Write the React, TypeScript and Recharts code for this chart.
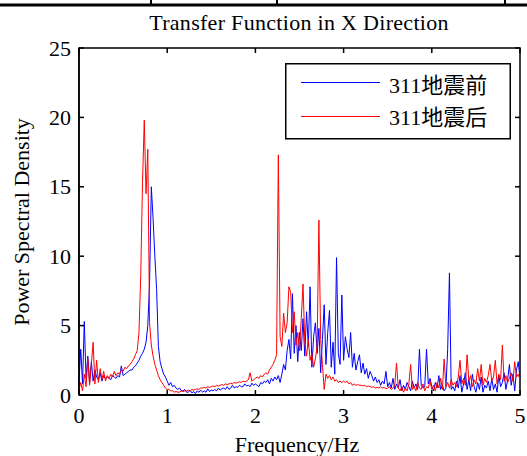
import { LineChart, Line, XAxis, YAxis, ReferenceArea } from 'recharts';

// frequency grid step (Hz) of the sampled spectra
const FREQ_STEP = 0.02;

// 311 before the earthquake (blue), one row = 0.2 Hz
const before = [
  1.0, 3.3, 0.8, 5.3, 1.2, 2.8, 0.9, 2.4, 1.0, 1.8,
  1.3, 1.1, 1.6, 1.0, 1.4, 1.2, 1.3, 1.2, 1.1, 1.4,
  1.3, 1.2, 1.4, 1.3, 2.1, 1.4, 1.5, 1.6, 1.7, 1.8,
  1.8, 2.0, 2.1, 2.3, 2.5, 2.8, 3.0, 3.3, 3.8, 5.0,
  8.0, 15.0, 12.7, 10.0, 7.6, 3.5, 2.4, 1.9, 1.5, 1.3,
  1.0, 0.7, 0.9, 0.6, 0.7, 0.5, 0.4, 0.5, 0.3, 0.3,
  0.4, 0.2, 0.2, 0.35, 0.15, 0.25, 0.1, 0.3, 0.2, 0.35,
  0.2, 0.3, 0.2, 0.45, 0.25, 0.35, 0.3, 0.4, 0.3, 0.5,
  0.35, 0.45, 0.5, 0.4, 0.6, 0.4, 0.5, 0.7, 0.5, 0.6,
  0.55, 0.7, 0.6, 0.6, 0.8, 0.65, 0.7, 0.6, 0.85, 0.7,
  0.8, 0.7, 0.6, 0.9, 0.8, 1.0, 0.9, 1.1, 0.8, 1.2,
  1.0, 1.3, 1.1, 1.4, 0.9, 1.5, 2.2, 1.8, 3.2, 4.0,
  2.6, 7.3, 3.0, 5.0, 2.4, 4.5, 3.2, 5.5, 2.8, 6.0,
  3.5, 7.8, 2.0, 4.2, 5.2, 3.0, 4.8, 1.6, 4.0, 6.5,
  2.2, 4.5, 6.1, 2.0, 3.8, 1.5, 9.9, 3.0, 2.2, 7.2,
  2.5, 4.2, 3.3, 2.7, 4.5, 2.0, 3.0, 1.8, 2.4, 2.9,
  1.6, 2.3, 1.5, 1.9, 1.2, 1.7, 1.4, 1.0, 1.3, 0.9,
  1.1, 0.7, 1.0, 0.8, 1.7, 0.6, 0.9, 0.5, 1.2, 0.4,
  0.8, 0.5, 1.1, 0.3, 0.7, 0.4, 0.9, 0.6, 0.3, 1.0,
  0.5, 0.8, 0.4, 3.3, 0.7, 0.5, 0.6, 3.3, 0.8, 1.2,
  0.6, 0.3, 0.9, 0.5, 1.4, 0.4, 0.7, 0.3, 0.5, 3.3,
  8.8, 0.4, 0.6, 0.3, 1.0, 0.5, 1.4, 0.2, 0.8, 1.6,
  0.4, 1.1, 0.3, 1.5, 0.6, 0.2, 0.9, 0.4, 1.3, 0.2,
  0.7, 0.5, 1.0, 0.3, 1.2, 0.4, 0.8, 0.2, 1.4, 0.6,
  0.9, 1.6, 0.4, 1.1, 2.2, 0.7, 1.5, 0.3, 1.8, 2.4,
  1.2,
];

// 311 after the earthquake (red)
const after = [
  0.4, 0.9, 0.3, 1.5, 0.6, 2.6, 0.7, 2.2, 3.8, 0.8,
  2.5, 0.9, 1.9, 1.1, 1.7, 1.0, 1.4, 1.2, 1.5, 1.3,
  1.7, 1.4, 1.6, 1.5, 1.8, 1.7, 2.0, 1.9, 2.1, 2.2,
  2.4, 2.6, 2.9, 3.2, 4.5, 8.6, 15.3, 19.8, 14.5, 17.7,
  5.2, 3.6, 2.8, 2.2, 1.8, 1.4, 1.1, 0.9, 0.7, 0.5,
  0.4, 0.4, 0.3, 0.3, 0.2, 0.25, 0.2, 0.2, 0.3, 0.25,
  0.3, 0.3, 0.35, 0.3, 0.4, 0.35, 0.4, 0.45, 0.4, 0.5,
  0.5, 0.55, 0.5, 0.6, 0.55, 0.6, 0.65, 0.6, 0.7, 0.65,
  0.7, 0.75, 0.7, 0.8, 0.75, 0.8, 0.85, 0.8, 0.9, 0.85,
  0.9, 0.95, 0.9, 1.0, 0.95, 1.0, 1.1, 1.6, 1.0, 1.1,
  1.2, 1.3, 1.2, 1.4, 1.3, 1.5, 1.6, 1.5, 1.8, 2.0,
  2.2, 2.5, 2.9, 17.3, 4.2, 3.5, 5.9, 4.5, 5.2, 7.8,
  7.4, 4.5, 6.0, 3.6, 4.5, 3.2, 5.5, 8.0, 3.8, 2.8,
  4.0, 2.5, 3.0, 2.0, 2.6, 3.5, 12.6, 4.0, 2.2, 0.4,
  1.5, 1.2, 1.4, 1.1, 1.3, 1.0, 1.1, 0.9, 1.0, 0.9,
  1.0, 0.9, 1.0, 0.8, 0.9, 0.7, 0.8, 0.7, 0.75, 0.7,
  0.7, 0.65, 0.7, 0.6, 0.65, 0.6, 0.55, 0.6, 0.5, 0.55,
  0.5, 0.6, 0.5, 0.55, 0.45, 0.5, 0.6, 0.4, 0.5, 0.7,
  2.3, 0.5, 0.3, 0.6, 0.2, 0.5, 0.3, 0.8, 2.2, 0.4,
  0.6, 0.3, 0.9, 0.5, 0.4, 0.8, 0.3, 0.6, 0.5, 1.0,
  0.4, 0.7, 0.3, 0.9, 0.5, 1.2, 0.4, 2.6, 0.6, 0.9,
  0.5, 1.1, 0.7, 0.9, 0.6, 1.3, 2.5, 0.8, 1.2, 0.7,
  2.9, 1.0, 1.4, 0.6, 1.1, 0.8, 1.9, 1.0, 2.2, 0.7,
  1.2, 0.9, 1.4, 2.2, 1.0, 1.3, 2.5, 0.8, 1.5, 1.1,
  3.6, 1.0, 1.4, 0.9, 1.2, 1.6, 1.0, 2.4, 1.3, 1.5,
  1.1,
];

const xTicks = [0, 1, 2, 3, 4, 5];
const yTicks = [0, 5, 10, 15, 20, 25];
const seriesNames = ['311地震前', '311地震后'];

const data = before.map((v, i) => ({
  f: +(i * FREQ_STEP).toFixed(2),
  before: v,
  after: after[i],
}));

const FONT = '"Liberation Serif", "Times New Roman", "Noto Sans CJK SC", serif';
const TOP = 48;
const BOTTOM = 395;
const LEFT = 79;
const RIGHT = 520;

// tick marks point inward like MATLAB, on all four sides
const renderXTick = (props: any) => {
  const { x, payload } = props;
  return (
    <g key={`xt-${payload.value}`}>
      <line x1={x} x2={x} y1={BOTTOM} y2={BOTTOM - 5} stroke="#000" strokeWidth={1.5} />
      <line x1={x} x2={x} y1={TOP} y2={TOP + 5} stroke="#000" strokeWidth={1.5} />
      <text x={x} y={BOTTOM + 28} textAnchor="middle" fontFamily={FONT} fontSize={22} fill="#000">
        {payload.value}
      </text>
    </g>
  );
};

const renderYTick = (props: any) => {
  const { y, payload } = props;
  return (
    <g key={`yt-${payload.value}`}>
      <line x1={LEFT} x2={LEFT + 5} y1={y} y2={y} stroke="#000" strokeWidth={1.5} />
      <line x1={RIGHT - 5} x2={RIGHT} y1={y} y2={y} stroke="#000" strokeWidth={1.5} />
      <text x={LEFT - 8} y={y + 7.5} textAnchor="end" fontFamily={FONT} fontSize={22} fill="#000">
        {payload.value}
      </text>
    </g>
  );
};

export default function App() {
  return (
    <div style={{ position: 'absolute', left: 0, top: 0, width: 527, height: 456, background: '#fff' }}>
      <LineChart width={527} height={456} data={data} margin={{ top: 48, right: 7, bottom: 31, left: 19 }}>
        <XAxis
          dataKey="f"
          type="number"
          domain={[0, 5]}
          ticks={xTicks}
          interval={0}
          height={30}
          tickLine={false}
          axisLine={{ stroke: '#000', strokeWidth: 2 }}
          tick={renderXTick}
        />
        <YAxis
          type="number"
          domain={[0, 25]}
          ticks={yTicks}
          interval={0}
          width={60}
          tickLine={false}
          axisLine={{ stroke: '#000', strokeWidth: 1.5 }}
          tick={renderYTick}
        />
        <ReferenceArea x1={0} x2={5} y1={0} y2={25} fill="none" fillOpacity={0} stroke="#000" strokeWidth={1.5} />
        <Line type="linear" dataKey="before" stroke="#0000ff" strokeWidth={1} dot={false} isAnimationActive={false} />
        <Line type="linear" dataKey="after" stroke="#ff0000" strokeWidth={1} dot={false} isAnimationActive={false} />
      </LineChart>
      <svg width={527} height={456} style={{ position: 'absolute', left: 0, top: 0, pointerEvents: 'none' }}>
        <rect x={0} y={3.5} width={527} height={3} fill="#000" />
        <rect x={150} y={0} width={2} height={4} fill="#000" />
        <rect x={276} y={0} width={2} height={4} fill="#000" />
        <rect x={504} y={0} width={2} height={4} fill="#000" />
        <text x={299} y={30} textAnchor="middle" fontFamily={FONT} fontSize={22} letterSpacing={0.3} fill="#000">
          Transfer Function in X Direction
        </text>
        <text x={297} y={452} textAnchor="middle" fontFamily={FONT} fontSize={22} fill="#000">
          Frequency/Hz
        </text>
        <text
          x={29}
          y={222}
          textAnchor="middle"
          fontFamily={FONT}
          fontSize={22}
          fill="#000"
          transform="rotate(-90 29 222)"
        >
          Power Spectral Density
        </text>
        <rect x={285.75} y={63.75} width={224.5} height={75} fill="#fff" stroke="#000" strokeWidth={1.5} />
        <line x1={301} x2={380} y1={82.5} y2={82.5} stroke="#0000ff" strokeWidth={1} />
        <line x1={301} x2={380} y1={116.5} y2={116.5} stroke="#ff0000" strokeWidth={1} />
        <text x={389} y={93} fontFamily={FONT} fontSize={22} fill="#000">{seriesNames[0]}</text>
        <text x={389} y={125} fontFamily={FONT} fontSize={22} fill="#000">{seriesNames[1]}</text>
      </svg>
    </div>
  );
}
